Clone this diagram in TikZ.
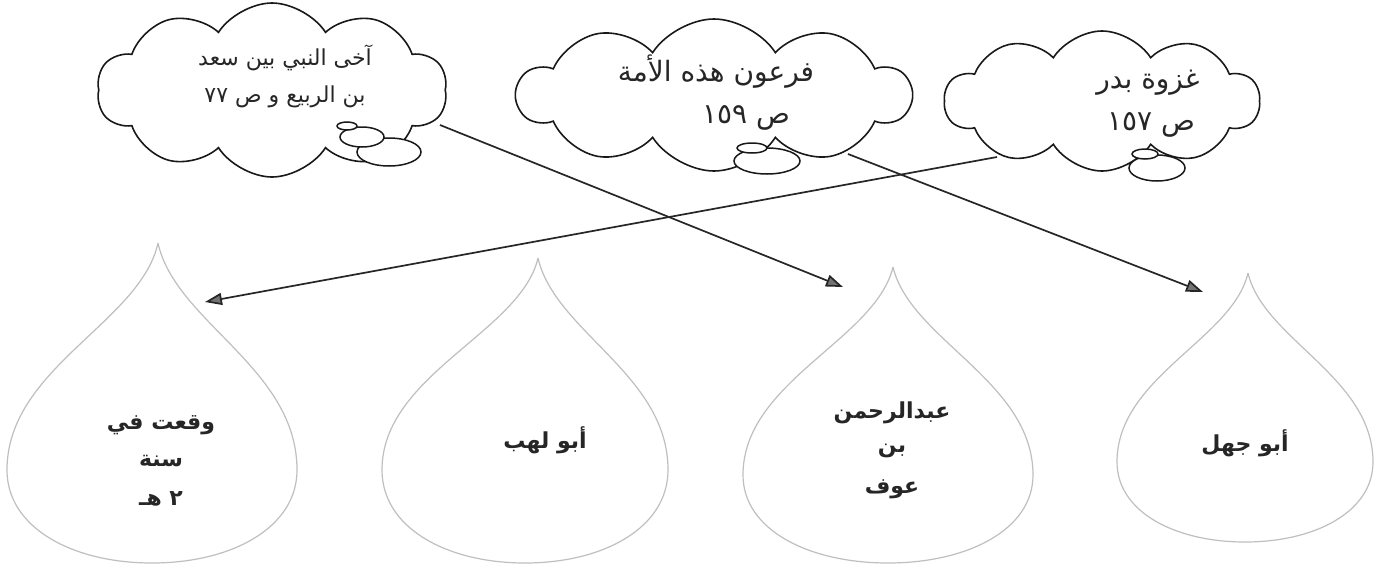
\documentclass[tikz,border=0pt]{standalone}
\usepackage{fontspec}
\newfontfamily\arabicfont[Script=Arabic]{DejaVu Sans}
\TeXXeTstate=1
\usetikzlibrary{shapes.symbols,arrows.meta}
\newcommand\waterdrop[7]{%
  \draw[dropline] (#2,#3) .. controls ({#2-0.12*#4},{#3+0.35*(#5-#3)}) and ({#1-#4},{#5-0.45*(#5-#3)}) .. ({#1-#4},#5)
    .. controls ({#1-#4},{#5+0.62*(#6-#5)}) and ({#1-0.55*#4},#6) .. (#1,#6)
    .. controls ({#1+0.55*#4},#6) and ({#1+#4},{#5+0.62*(#6-#5)}) .. ({#1+#4},#5)
    .. controls ({#1+#4},{#5-0.45*(#5-#3)}) and ({#2+0.12*#4},{#3+0.35*(#5-#3)}) .. (#2,#3);
  \coordinate (#7) at (#2,#3);}
\begin{document}
\begin{tikzpicture}[x=1pt,y=-1pt,
  cloudbox/.style={cloud, draw=black!90, line width=1.6pt, cloud puffs=10, cloud puff arc=115, cloud ignores aspect, inner sep=0pt, fill=white},
  bubble/.style={draw=black!90, line width=1.5pt, fill=white},
  dropline/.style={draw=black!25, line width=1.2pt},
  arr/.style={-{Triangle[length=17pt,width=12pt,fill=black!55]}, draw=black!85, line width=1.7pt},
  ctext/.style={font=\arabicfont\fontsize{28}{32}\selectfont, inner sep=0pt, text=black!85},
  csmall/.style={font=\arabicfont\fontsize{22}{26}\selectfont, inner sep=0pt, text=black!85},
  dtext/.style={font=\arabicfont\bfseries\fontsize{22}{26}\selectfont, inner sep=0pt, text=black!85}
]
\useasboundingbox (0,0) rectangle (1385,573);
\fill[white] (0,0) rectangle (1385,573);

% drops
\waterdrop{152}{158}{243}{145}{470}{563}{d1}
\waterdrop{525}{538}{258}{143}{470}{563}{d2}
\waterdrop{888}{893}{267}{145}{475}{563}{d3}
\waterdrop{1245}{1248}{273}{128}{462}{542}{d4}

% arrow end coordinates
\coordinate (a1s) at (440,125);
\coordinate (a1e) at (843,287);
\coordinate (a2s) at (848,154);
\coordinate (a2e) at (1203,292);
\coordinate (a3s) at (997,157);
\coordinate (a3e) at (205,302);

\draw[arr] (a1s) -- (a1e);
\draw[arr] (a2s) -- (a2e);
\draw[arr] (a3s) -- (a3e);

% clouds
\node[cloudbox, minimum width=350pt, minimum height=174pt] (c1) at (272,90) {};
\node[cloudbox, minimum width=393pt, minimum height=152pt] (c2) at (714,95) {};
\node[cloudbox, minimum width=315pt, minimum height=140pt] (c3) at (1102,101) {};

% bubbles
\draw[bubble] (389,152) ellipse [x radius=32, y radius=14];
\draw[bubble] (362,137) ellipse [x radius=22, y radius=10];
\draw[bubble] (347,126) ellipse [x radius=10, y radius=4];
\draw[bubble] (767,161) ellipse [x radius=33, y radius=13];
\draw[bubble] (752,148) ellipse [x radius=15, y radius=5];
\draw[bubble] (1157,168) ellipse [x radius=28, y radius=13];
\draw[bubble] (1145,154) ellipse [x radius=13, y radius=5];

% cloud texts
\node[csmall] (t1a) at (285,58) {\beginR آخى النبي بين سعد\endR};
\node[csmall] (t1b) at (285,97) {\beginR بن الربيع و ص ٧٧\endR};
\node[ctext] (t2a) at (716,72) {\beginR فرعون هذه الأمة\endR};
\node[ctext] (t2b) at (746,118) {\beginR ص ١٥٩\endR};
\node[ctext] (t3a) at (1148,83) {\beginR غزوة بدر\endR};
\node[ctext] (t3b) at (1151,125) {\beginR ص ١٥٧\endR};

% drop texts
\node[dtext] (u1a) at (161,425) {\beginR وقعت في\endR};
\node[dtext] (u1b) at (161,461) {\beginR سنة\endR};
\node[dtext] (u1c) at (161,499) {\beginR ٢ هـ\endR};
\node[dtext] (u2) at (545,440) {\beginR أبو لهب\endR};
\node[dtext] (u3a) at (892,413) {\beginR عبدالرحمن\endR};
\node[dtext] (u3b) at (892,451) {\beginR بن\endR};
\node[dtext] (u3c) at (892,489) {\beginR عوف\endR};
\node[dtext] (u4) at (1245,443) {\beginR أبو جهل\endR};
\end{tikzpicture}
\end{document}
